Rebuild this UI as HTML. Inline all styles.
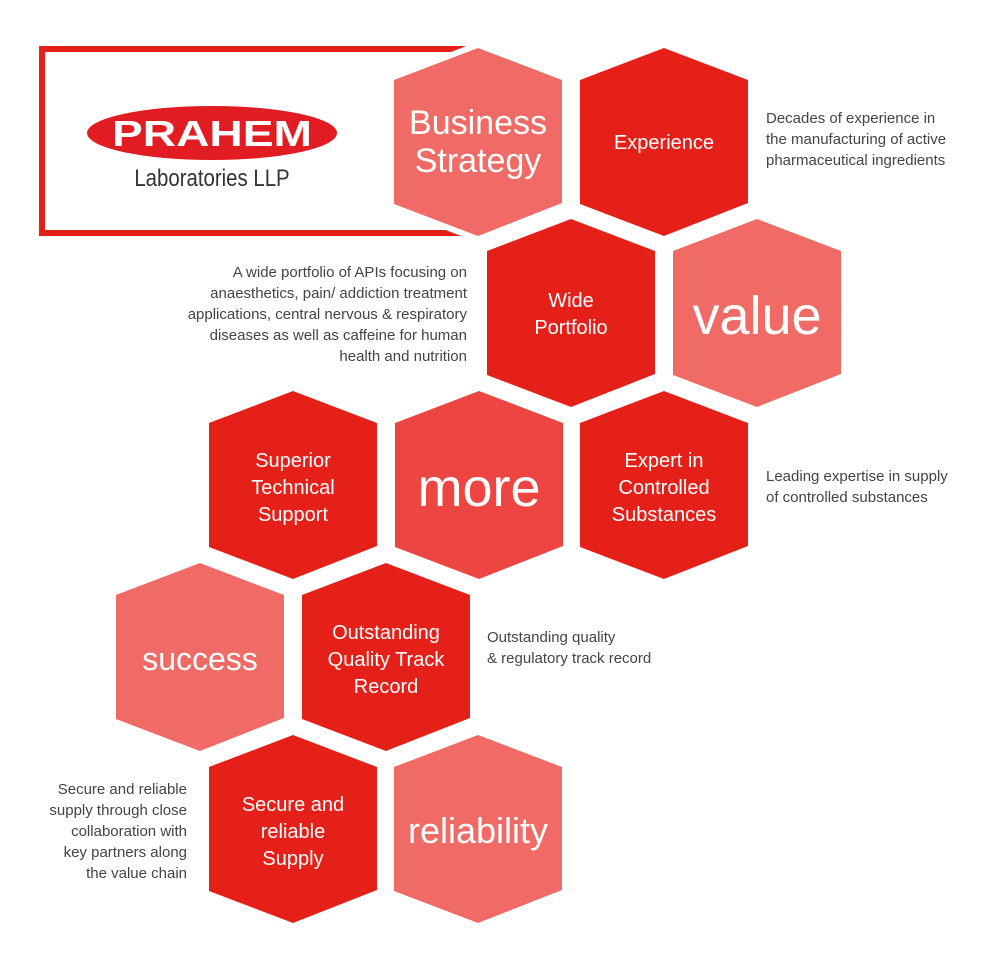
<!DOCTYPE html>
<html><head><meta charset="utf-8"><style>
html,body{margin:0;padding:0;background:#fff;width:1003px;height:960px;overflow:hidden}
svg{display:block}
text{font-family:"Liberation Sans",sans-serif}
.w{fill:#fff;text-anchor:middle}
.s{fill:#444;font-size:15px}
</style></head><body>
<svg width="1003" height="960" viewBox="0 0 1003 960">
<defs>
<polygon id="h" points="0,-94 84,-62 84,61 0,94 -84,62 -84,-62"/>
</defs>
<rect x="42" y="49" width="420" height="184" fill="#fff" stroke="#e52019" stroke-width="6"/>
<ellipse cx="212" cy="133" rx="125" ry="27" fill="#e11d23"/>
<text x="112" y="146" font-size="36" font-weight="bold" fill="#fff" textLength="200" lengthAdjust="spacingAndGlyphs">PRAHEM</text>
<text x="212" y="186" text-anchor="middle" font-size="24" fill="#333" transform="translate(212 0) scale(0.85 1) translate(-212 0)">Laboratories LLP</text>
<g stroke="#fff" stroke-width="12"><use href="#h" x="478" y="142" fill="#f06b66"/></g>
<use href="#h" x="478" y="142" fill="#f06b66"/>
<use href="#h" x="664" y="142" fill="#e52019"/>
<use href="#h" x="571" y="313" fill="#e52019"/>
<use href="#h" x="757" y="313" fill="#f06b66"/>
<use href="#h" x="293" y="485" fill="#e52019"/>
<use href="#h" x="479" y="485" fill="#ec4542"/>
<use href="#h" x="664" y="485" fill="#e52019"/>
<use href="#h" x="200" y="657" fill="#f06b66"/>
<use href="#h" x="386" y="657" fill="#e52019"/>
<use href="#h" x="293" y="829" fill="#e52019"/>
<use href="#h" x="478" y="829" fill="#f06b66"/>
<g class="w">
<text x="478" y="134" font-size="34">Business</text>
<text x="478" y="172" font-size="34">Strategy</text>
<text x="664" y="149" font-size="20">Experience</text>
<text x="571" y="307" font-size="20">Wide</text>
<text x="571" y="334" font-size="20">Portfolio</text>
<text x="757" y="334" font-size="54">value</text>
<text x="293" y="467" font-size="20">Superior</text>
<text x="293" y="494" font-size="20">Technical</text>
<text x="293" y="521" font-size="20">Support</text>
<text x="479" y="506" font-size="54">more</text>
<text x="664" y="467" font-size="20">Expert in</text>
<text x="664" y="494" font-size="20">Controlled</text>
<text x="664" y="521" font-size="20">Substances</text>
<text x="200" y="670" font-size="32">success</text>
<text x="386" y="639" font-size="20">Outstanding</text>
<text x="386" y="666" font-size="20">Quality Track</text>
<text x="386" y="693" font-size="20">Record</text>
<text x="293" y="811" font-size="20">Secure and</text>
<text x="293" y="838" font-size="20">reliable</text>
<text x="293" y="865" font-size="20">Supply</text>
<text x="478" y="843" font-size="36">reliability</text>
</g>
<g class="s">
<text x="766" y="123">Decades of experience in</text>
<text x="766" y="144">the manufacturing of active</text>
<text x="766" y="165">pharmaceutical ingredients</text>
<g text-anchor="end">
<text x="467" y="277">A wide portfolio of APIs focusing on</text>
<text x="467" y="298">anaesthetics, pain/ addiction treatment</text>
<text x="467" y="319">applications, central nervous &amp; respiratory</text>
<text x="467" y="340">diseases as well as caffeine for human</text>
<text x="467" y="361">health and nutrition</text>
<text x="187" y="794">Secure and reliable</text>
<text x="187" y="815">supply through close</text>
<text x="187" y="836">collaboration with</text>
<text x="187" y="857">key partners along</text>
<text x="187" y="878">the value chain</text>
</g>
<text x="766" y="481">Leading expertise in supply</text>
<text x="766" y="502">of controlled substances</text>
<text x="487" y="642">Outstanding quality</text>
<text x="487" y="663">&amp; regulatory track record</text>
</g>
</svg>
</body></html>
